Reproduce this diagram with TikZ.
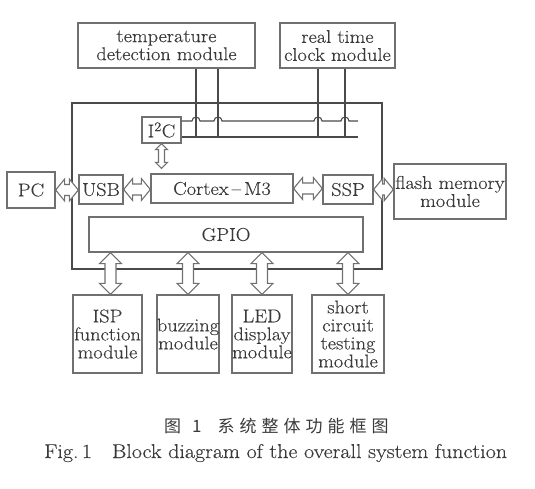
\documentclass[tikz,border=0pt]{standalone}
\usepackage{fontspec}
\setmainfont{Latin Modern Roman}[FakeStretch=1.1, FakeBold=0.3]
\usetikzlibrary{calc}
\newfontfamily\cjk{Noto Sans CJK SC}
\definecolor{boxgray}{HTML}{707070}
\definecolor{maingray}{HTML}{4A4A4A}
\definecolor{txt}{HTML}{3A3A3A}
\tikzset{
  box/.style={draw=boxgray, line width=1.3pt, text=txt, align=center, inner sep=0pt,
    font=\fontsize{18.5}{18}\selectfont},
  mainbox/.style={draw=maingray, line width=2pt},
  bus/.style={draw=maingray, line width=1.1pt},
  hollow/.style={draw=boxgray, line width=1.1pt, fill=white, line join=miter},
}
% horizontal hollow double arrow between two points (#1 left tip, #2 right tip)
\newcommand\harr[5]{% #1,#2 points; #3 head half width; #4 shaft half width; #5 head length
  \path[hollow] let \p1=#1, \p2=#2 in
    (\x1,\y1) -- (\x1+#5,\y1+#3) -- (\x1+#5,\y1+#4) -- (\x2-#5,\y1+#4) -- (\x2-#5,\y1+#3)
    -- (\x2,\y1) -- (\x2-#5,\y1-#3) -- (\x2-#5,\y1-#4) -- (\x1+#5,\y1-#4) -- (\x1+#5,\y1-#3) -- cycle;}
% vertical hollow double arrow (#1 top tip, #2 bottom tip)
\newcommand\varr[5]{%
  \path[hollow] let \p1=#1, \p2=#2 in
    (\x1,\y1) -- (\x1+#3,\y1-#5) -- (\x1+#4,\y1-#5) -- (\x1+#4,\y2+#5) -- (\x1+#3,\y2+#5)
    -- (\x1,\y2) -- (\x1-#3,\y2+#5) -- (\x1-#4,\y2+#5) -- (\x1-#4,\y1-#5) -- (\x1-#3,\y1-#5) -- cycle;}
\begin{document}
\begin{tikzpicture}[x=1pt,y=-1pt]
\useasboundingbox (0,0) rectangle (535,488);
% top modules
\node[box, minimum width=177pt, minimum height=45pt] (temp) at (166.5,45.5) {temperature\\detection module};
\node[box, minimum width=115pt, minimum height=45pt] (rtc) at (337.5,45.5) {real time\\clock module};
% main MCU box
\node[mainbox, minimum width=310pt, minimum height=166pt, inner sep=0pt] (mcu) at (226.5,186) {};
% inner blocks
\node[box, minimum width=39pt, minimum height=26pt] (i2c) at (161.5,130) {I\textsuperscript{2}C};
\node[box, minimum width=44pt, minimum height=29pt] (usb) at (101,189.5) {USB};
\node[box, minimum width=142pt, minimum height=29pt] (cortex) at (222,188.5) {Cortex\,--\,M3};
\node[box, minimum width=50pt, minimum height=29pt] (ssp) at (348,189.5) {SSP};
\node[box, minimum width=274pt, minimum height=35pt] (gpio) at (226,234.5) {GPIO};
% outside left/right
\node[box, minimum width=48pt, minimum height=36pt] (pc) at (31,190) {PC};
\node[box, minimum width=112pt, minimum height=55pt] (flash) at (450,191.5) {flash memory\\module};
% bottom modules
\node[box, minimum width=69pt, minimum height=78pt] (isp) at (107.5,334) {ISP\\function\\module};
\node[box, minimum width=62pt, minimum height=78pt] (buzz) at (188,334) {buzzing\\module};
\node[box, minimum width=60pt, minimum height=78pt] (led) at (262,334) {LED\\display\\module};
\node[box, minimum width=72pt, minimum height=78pt] (short) at (348,334) {short\\circuit\\testing\\module};
% bus lines
\coordinate (b1) at (358,121);
\coordinate (b2) at (358,137);
\coordinate (v1) at (196,137);
\coordinate (v2) at (218,137);
\coordinate (v3) at (318,137);
\coordinate (v4) at (345,137);
\draw[bus] (i2c.east |- b2) -- (b2);
\draw[bus] (i2c.east |- b1) -- (192,121) arc (180:360:4) -- (214,121) arc (180:360:4)
  -- (314,121) arc (180:360:4) -- (341,121) arc (180:360:4) -- (b1);
\draw[bus] (temp.south -| v1) -- (v1);
\draw[bus] (temp.south -| v2) -- (v2);
\draw[bus] (rtc.south -| v3) -- (v3);
\draw[bus] (rtc.south -| v4) -- (v4);
% arrows
\harr{(pc.east)}{(usb.west)}{11pt}{5.5pt}{9pt}
\harr{(usb.east)}{(cortex.west)}{11pt}{5.5pt}{9pt}
\harr{(cortex.east)}{(ssp.west)}{11pt}{5.5pt}{9pt}
\harr{(ssp.east)}{(flash.west)}{11pt}{5.5pt}{9pt}
\varr{(i2c.south)}{($(cortex.north -| i2c.south)+(0,-5)$)}{6pt}{3pt}{6pt}
\varr{($(gpio.south -| isp.north)+(3,0)$)}{($(isp.north)+(3,0)$)}{11pt}{5.5pt}{11pt}
\varr{(gpio.south -| buzz.north)}{(buzz.north)}{11pt}{5.5pt}{11pt}
\varr{(gpio.south -| led.north)}{(led.north)}{11pt}{5.5pt}{11pt}
\varr{(gpio.south -| short.north)}{(short.north)}{11pt}{5.5pt}{11pt}
% captions
\node[anchor=west, inner sep=0pt, text=txt, font=\cjk\fontsize{17}{17}\selectfont] (cap1) at (164,426)
  {图\kern11pt 1\kern16pt 系\kern5pt 统\kern5pt 整\kern5pt 体\kern5pt 功\kern5pt 能\kern5pt 框\kern5pt 图};
\node[anchor=base west, inner sep=0pt, text=txt, font=\fontsize{20}{20}\selectfont] (cap2) at (44,458)
  {Fig.\,1\hspace{1em}Block diagram of the overall system function};
\end{tikzpicture}
\end{document}
